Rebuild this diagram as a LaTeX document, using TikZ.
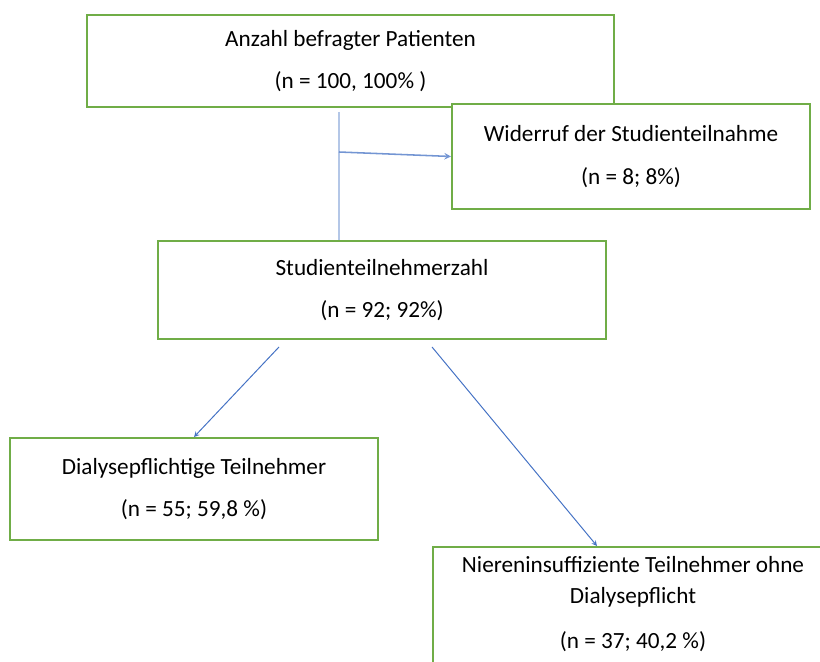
\documentclass[tikz,border=0pt]{standalone}
\usepackage{fontspec}
\setmainfont{Carlito}
\usepackage{tikz}
\usetikzlibrary{arrows,shapes,positioning,calc}
\definecolor{pfgreen}{RGB}{112,173,71}
\definecolor{pflightblue}{RGB}{180,199,231}
\definecolor{pfblue}{RGB}{68,114,196}
\tikzstyle{arrow} = [line width=0.7pt,->,>=stealth,color=pfblue]
\tikzstyle{trunk} = [line width=1.8pt,color=pflightblue]
\tikzstyle{patbox} = [rectangle, draw=pfgreen, fill=white, line width=1.4pt, align=center, font=\fontsize{16.5}{22}\selectfont]

\begin{document}
\begin{tikzpicture}
\useasboundingbox (0,0) rectangle (20.5,-16.55);
\clip (0,0) rectangle (20.5,-16.55);
% Patientenfluss
\node (befragt) [patbox, minimum width=13.175cm, minimum height=2.3cm] at (8.7625,-1.525) {Anzahl befragter Patienten\\[8pt](n = 100, 100\% )};
\node (studie) [patbox, minimum width=11.2cm, minimum height=2.45cm] at (9.55,-7.25) {Studienteilnehmerzahl\\[8pt](n = 92; 92\%)};
\coordinate (abzweig) at (8.475,-3.8);

\draw[trunk] ([yshift=-0.1cm]befragt.south -| abzweig) -- (studie.north -| abzweig);

\node (widerruf) [patbox, minimum width=8.95cm, minimum height=2.625cm] at (15.775,-3.9125) {Widerruf der Studienteilnahme\\[8pt](n = 8; 8\%)};
\draw[arrow, line width=1.1pt, color=pfblue!75] (abzweig) -- (widerruf.west);

\node (dialyse) [patbox, minimum width=9.2cm, minimum height=2.55cm] at (4.85,-12.225) {Dialysepflichtige Teilnehmer\\[8pt](n = 55; 59,8 \%)};
\node (niere) [patbox, anchor=north, minimum width=10cm, minimum height=4cm] at (15.825,-13.65) {};
\node (nieretext) [align=center, font=\fontsize{16.5}{22}\selectfont] at ([yshift=-1.45cm]niere.north) {Niereninsuffiziente Teilnehmer ohne\\Dialysepflicht\\[10pt](n = 37; 40,2 \%)};

\draw[arrow] ([xshift=-2.575cm,yshift=-0.175cm]studie.south) -- (dialyse.north);
\draw[arrow] ([xshift=1.25cm,yshift=-0.175cm]studie.south) -- ([xshift=-0.9cm]niere.north);
\end{tikzpicture}
\end{document}
